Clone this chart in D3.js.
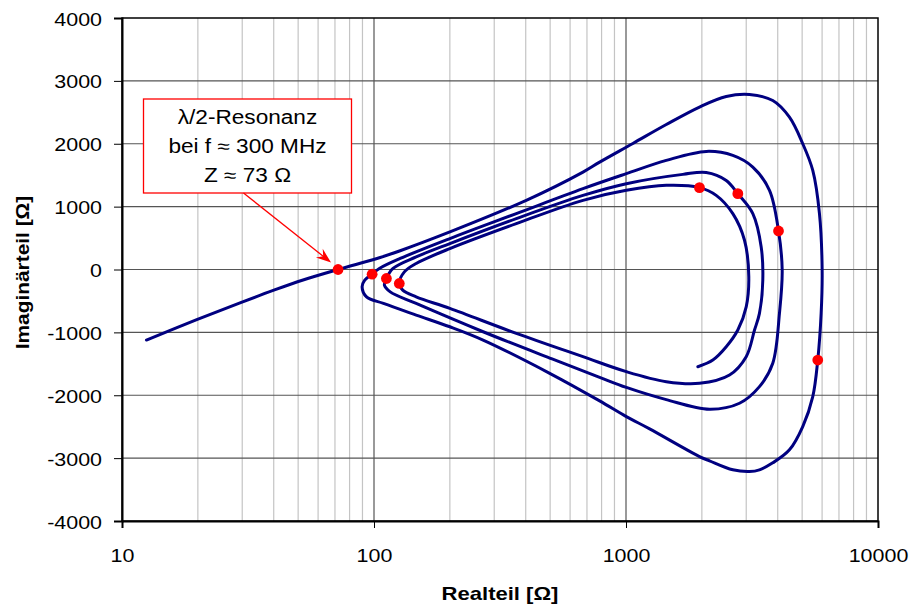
<!DOCTYPE html>
<html>
<head>
<meta charset="utf-8">
<script src="https://cdn.jsdelivr.net/npm/d3@7"></script>
<style>
	body { margin: 0; background: #fff; }
	svg { display: block; }
	text { font-family: "Liberation Sans", Arial, sans-serif; fill: #000; }
</style>
</head>
<body>
<div id="chart"></div>
<script>
var CHART_WIDTH = 919;
var CHART_HEIGHT = 608;
var TEXT_STRETCH = 1.16;

// impedance locus of the dipole, in drawing order
var realPart = [
	12.5, 19.8, 29.4, 39.8, 52.3, 72, 105, 127, 200, 402, 675, 786, 1065, 1445, 1957, 2499, 3090, 3823,
	4453, 5028, 5510, 5857, 6003, 5948, 5767, 5510, 5028, 4453, 3823, 3385, 3090, 2654, 2145, 1957,
	1241, 1003, 786, 498, 271, 200, 147, 109, 93.4, 89.7, 91.9, 98.3,
	105, 127, 200, 367, 675, 1003, 1445, 2082, 2654, 3186, 3710, 4029, 4167, 4064, 3823, 3385, 2821,
	2145, 1445, 1003, 786, 498, 271, 147, 116, 110, 112,
	119, 147, 200, 367, 675, 1003, 1681, 2082, 2499, 2778, 3186, 3439, 3490, 3385, 3236, 2999, 2575,
	1957, 1445, 1003, 675, 367, 200, 147, 130, 126,
	132, 147, 200, 367, 675, 1003, 1445, 1957, 2280, 2654, 2953, 3071, 2999, 2778, 2499, 2211, 1928
];
var imagPart = [
	-1122, -797, -530, -333, -167, 0, 187, 298, 597, 1100, 1549, 1708, 2005, 2306, 2584, 2751, 2783, 2687,
	2422, 2000, 1576, 889, -11, -698, -1440, -2022, -2498, -2868, -3075, -3186, -3213, -3186, -3043, -2975,
	-2535, -2340, -2090, -1651, -1122, -911, -725, -540, -435, -276, -170, -75,
	16, 175, 492, 889, 1286, 1524, 1735, 1878, 1814, 1629, 1259, 613, -11, -698, -1492, -1863, -2127,
	-2222, -2070, -1876, -1715, -1408, -990, -540, -356, -249, -143,
	16, 200, 413, 810, 1179, 1365, 1513, 1544, 1417, 1206, 889, 359, -170, -698, -963, -1387, -1678,
	-1810, -1784, -1625, -1387, -1016, -619, -435, -329, -222,
	-38, 95, 333, 730, 1100, 1259, 1338, 1302, 1179, 889, 465, -117, -594, -963, -1229, -1440, -1546
];

// marked resonance points
var dotReal = [72, 98.3, 112, 126, 1957, 2778, 4029, 5767];
var dotImag = [0, -75, -143, -222, 1302, 1206, 613, -1440];

var xTicks = [10, 100, 1000, 10000];
var yTicks = [-4000, -3000, -2000, -1000, 0, 1000, 2000, 3000, 4000];
var noteLines = ["\u03bb/2-Resonanz", "bei f \u2248 300 MHz", "Z \u2248 73 \u03a9"];

var margin = { top: 18, right: 41, bottom: 87, left: 122 };
var plotWidth = CHART_WIDTH - margin.left - margin.right;
var plotHeight = CHART_HEIGHT - margin.top - margin.bottom;

var svg = d3.select("#chart")
	.append("svg")
	.attr("width", CHART_WIDTH)
	.attr("height", CHART_HEIGHT);

var inner = svg.append("g")
	.attr("transform", `translate(${margin.left},${margin.top})`);

// scales
var xScale = d3.scaleLog().domain([10, 10000]).range([0, plotWidth]);
var yScale = d3.scaleLinear().domain([-4000, 4000]).range([plotHeight, 0]);

function stretched(sel, x, y, rotate) {
	return sel.attr("transform", `translate(${x},${y})` + (rotate ? " rotate(-90)" : "") + ` scale(${TEXT_STRETCH},1)`);
}

// minor grid
var minorX = [];
for (var dec = 10; dec < 10000; dec *= 10) {
	for (var m = 2; m <= 9; m++) minorX.push(dec * m);
}
inner.selectAll(".minor-grid")
	.data(minorX)
	.join("line")
	.attr("class", "minor-grid")
	.attr("x1", d => xScale(d)).attr("x2", d => xScale(d))
	.attr("y1", 0).attr("y2", plotHeight)
	.attr("stroke", "#c4c4c4")
	.attr("stroke-width", 1.2);

// major grid
inner.selectAll(".vertical-grid")
	.data(xTicks.slice(1, -1))
	.join("line")
	.attr("class", "vertical-grid")
	.attr("x1", d => xScale(d)).attr("x2", d => xScale(d))
	.attr("y1", 0).attr("y2", plotHeight)
	.attr("stroke", "#555")
	.attr("stroke-width", 1.2);

inner.selectAll(".horizontal-grid")
	.data(yTicks.slice(1, -1))
	.join("line")
	.attr("class", "horizontal-grid")
	.attr("x1", 0).attr("x2", plotWidth)
	.attr("y1", d => yScale(d)).attr("y2", d => yScale(d))
	.attr("stroke", "#555")
	.attr("stroke-width", 1.2);

// frame
inner.append("rect")
	.attr("width", plotWidth)
	.attr("height", plotHeight)
	.attr("fill", "none")
	.attr("stroke", "#000")
	.attr("stroke-width", 1.5);

// axes (plain hyphen for negatives, like the original)
var plainFormat = d => String(d);
var xAxis = inner.append("g")
	.attr("transform", `translate(0,${plotHeight})`)
	.call(d3.axisBottom(xScale).tickValues(xTicks).tickSize(7).tickFormat(plainFormat));
var yAxis = inner.append("g")
	.call(d3.axisLeft(yScale).tickValues(yTicks).tickSize(8).tickFormat(plainFormat));

[xAxis, yAxis].forEach(function(ax) {
	ax.select(".domain").attr("stroke", "#000").attr("stroke-width", 2);
	ax.selectAll(".tick line").attr("stroke", "#000").attr("stroke-width", 1);
	ax.selectAll(".tick text").style("font-size", "18.5px").style("font-family", null);
});
xAxis.selectAll(".tick text")
	.attr("y", null).attr("dy", null)
	.each(function() { stretched(d3.select(this), 0, 41); });
yAxis.selectAll(".tick text")
	.attr("x", null).attr("dy", null)
	.attr("text-anchor", "end")
	.each(function() { stretched(d3.select(this), -20, 7); });

// axis titles
stretched(svg.append("text"), margin.left + plotWidth / 2, 600)
	.attr("text-anchor", "middle")
	.style("font-size", "19px")
	.style("font-weight", "bold")
	.text("Realteil [\u03a9]");

stretched(svg.append("text"), 29, margin.top + plotHeight / 2 + 3, true)
	.attr("text-anchor", "middle")
	.style("font-size", "18px")
	.style("font-weight", "bold")
	.text("Imagin\u00e4rteil [\u03a9]");

// curve
var points = realPart.map((r, i) => [r, imagPart[i]]);
var line = d3.line()
	.x(d => xScale(d[0]))
	.y(d => yScale(d[1]))
	.curve(d3.curveCatmullRom.alpha(0.5));

inner.append("path")
	.datum(points)
	.attr("d", line)
	.attr("fill", "none")
	.attr("stroke", "#000080")
	.attr("stroke-width", 3)
	.attr("stroke-linejoin", "round")
	.attr("stroke-linecap", "round");

// dots
inner.selectAll(".dot")
	.data(dotReal.map((r, i) => [r, dotImag[i]]))
	.join("circle")
	.attr("class", "dot")
	.attr("cx", d => xScale(d[0]))
	.attr("cy", d => yScale(d[1]))
	.attr("r", 5.4)
	.attr("fill", "#ff0000");

// annotation box + arrow
var note = svg.append("g");
note.append("rect")
	.attr("x", 143.5).attr("y", 99)
	.attr("width", 208).attr("height", 94)
	.attr("fill", "#fff")
	.attr("stroke", "#ff0000")
	.attr("stroke-width", 1.3);

note.selectAll("text")
	.data(noteLines)
	.join("text")
	.attr("text-anchor", "middle")
	.style("font-size", "19.5px")
	.each(function(d, i) { stretched(d3.select(this), 247.5, 123.5 + i * 29.2); })
	.text(d => d);

var tipX = margin.left + xScale(dotReal[0]) - 7;
var tipY = margin.top + yScale(dotImag[0]) - 7;
var startX = 243.5, startY = 193;
var ang = Math.atan2(tipY - startY, tipX - startX) * 180 / Math.PI;

note.append("line")
	.attr("x1", startX).attr("y1", startY)
	.attr("x2", tipX - 8 * Math.cos(ang * Math.PI / 180))
	.attr("y2", tipY - 8 * Math.sin(ang * Math.PI / 180))
	.attr("stroke", "#ff0000")
	.attr("stroke-width", 1.3);

note.append("path")
	.attr("d", "M0,0 L-15,-5.5 L-10,0 L-15,5.5 Z")
	.attr("transform", `translate(${tipX},${tipY}) rotate(${ang})`)
	.attr("fill", "#ff0000");
</script>
</body>
</html>
